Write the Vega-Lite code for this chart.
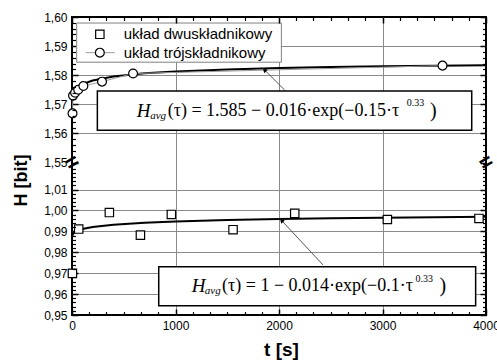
{
  "$schema": "https://vega.github.io/schema/vega-lite/v6.json",
  "width": 414,
  "height": 298,
  "autosize": {"type": "none"},
  "padding": {"left": 72, "top": 17, "right": 11, "bottom": 45},
  "background": "white",
  "config": {
    "view": {"stroke": "black", "strokeWidth": 2},
    "axis": {"labelFont": "Liberation Sans", "labelFontSize": 12, "labelColor": "black", "tickColor": "black", "domain": false, "grid": false}
  },
  "datasets": {
    "one": [{}],
    "sq": [
      {"t": 4, "H": 0.9699}, {"t": 65, "H": 0.9911}, {"t": 361, "H": 0.999}, {"t": 661, "H": 0.9882},
      {"t": 960, "H": 0.9981}, {"t": 1556, "H": 0.9908}, {"t": 2152, "H": 0.9986}, {"t": 3047, "H": 0.9957}, {"t": 3932, "H": 0.9962}
    ],
    "ci": [
      {"t": 5, "H": 1.5669}, {"t": 10, "H": 1.573}, {"t": 30, "H": 1.574}, {"t": 60, "H": 1.575},
      {"t": 110, "H": 1.5763}, {"t": 290, "H": 1.5778}, {"t": 590, "H": 1.5806}, {"t": 3580, "H": 1.5833}
    ],
    "fitTop": [
      {"t": 3, "H": 1.5721}, {"t": 5, "H": 1.5726}, {"t": 10, "H": 1.5734}, {"t": 20, "H": 1.5743}, {"t": 50, "H": 1.5757},
      {"t": 100, "H": 1.5769}, {"t": 200, "H": 1.5782}, {"t": 400, "H": 1.5796}, {"t": 700, "H": 1.5807}, {"t": 1000, "H": 1.5813},
      {"t": 1500, "H": 1.582}, {"t": 2000, "H": 1.5825}, {"t": 2500, "H": 1.5828}, {"t": 3000, "H": 1.5831}, {"t": 3500, "H": 1.5833}, {"t": 4000, "H": 1.5834}
    ],
    "fitBot": [
      {"t": 3, "H": 0.98787}, {"t": 5, "H": 0.98819}, {"t": 10, "H": 0.9887}, {"t": 20, "H": 0.9893}, {"t": 50, "H": 0.99027},
      {"t": 100, "H": 0.99114}, {"t": 200, "H": 0.99212}, {"t": 400, "H": 0.9932}, {"t": 700, "H": 0.99413}, {"t": 1000, "H": 0.99473},
      {"t": 1500, "H": 0.99542}, {"t": 2000, "H": 0.9959}, {"t": 2500, "H": 0.99627}, {"t": 3000, "H": 0.99656}, {"t": 3500, "H": 0.99681}, {"t": 4000, "H": 0.99701}
    ]
  },
  "resolve": {"axis": {"x": "independent", "y": "independent"}},
  "layer": [
    {
      "data": {"name": "fitBot"},
      "mark": {"type": "line", "color": "black", "strokeWidth": 2},
      "encoding": {
        "x": {"field": "t", "type": "quantitative",
          "scale": {"domain": [0, 4000], "nice": false, "zero": false},
          "axis": {"orient": "bottom", "values": [0, 1000, 2000, 3000, 4000], "tickSize": -6, "tickWidth": 1.5, "labelPadding": 11, "labelFlush": false, "format": "d",
            "grid": true, "gridColor": "#8a8a8a", "gridWidth": 1,
            "gridOpacity": {"condition": {"test": "datum.value == 0 || datum.value == 4000", "value": 0}, "value": 1},
            "title": "t [s]", "titleFont": "Liberation Sans", "titleFontSize": 19, "titleFontWeight": "bold", "titleX": 209, "titleY": 34, "titleBaseline": "middle"}},
        "y": {"field": "H", "type": "quantitative",
          "scale": {"domain": [0.95, 1.0229, 1.55, 1.6], "range": [298, 145.6, 145.6, 0], "nice": false, "zero": false},
          "axis": {"orient": "left", "values": [0.95, 0.96, 0.97, 0.98, 0.99, 1.0, 1.01, 1.55, 1.56, 1.57, 1.58, 1.59, 1.6], "tickSize": -6, "tickWidth": 1.5, "labelPadding": 11,
            "labelExpr": "replace(format(datum.value, '.2f'), '.', ',')",
            "grid": true, "gridColor": "#8a8a8a", "gridWidth": 1,
            "gridOpacity": {"condition": {"test": "datum.value == 0.95 || datum.value == 1.55 || datum.value == 1.6", "value": 0}, "value": 1},
            "title": "H [bit]", "titleFont": "Liberation Sans", "titleFontSize": 18, "titleFontWeight": "bold", "titleX": -51, "titleY": 163, "titleBaseline": "middle"}}
      }
    },
    {
      "data": {"name": "fitTop"},
      "mark": {"type": "line", "color": "black", "strokeWidth": 2},
      "encoding": {
        "x": {"field": "t", "type": "quantitative",
          "axis": {"orient": "bottom", "zindex": 1, "labels": false, "title": null, "tickSize": -3.5, "tickWidth": 1.2,
            "values": [166.7, 333.3, 500, 666.7, 833.3, 1166.7, 1333.3, 1500, 1666.7, 1833.3, 2166.7, 2333.3, 2500, 2666.7, 2833.3, 3166.7, 3333.3, 3500, 3666.7, 3833.3]}},
        "y": {"field": "H", "type": "quantitative",
          "axis": {"orient": "left", "zindex": 1, "labels": false, "title": null, "tickSize": -3.5, "tickWidth": 1.2,
            "values": [0.952, 0.954, 0.956, 0.958, 0.962, 0.964, 0.966, 0.968, 0.972, 0.974, 0.976, 0.978, 0.982, 0.984, 0.986, 0.988, 0.992, 0.994, 0.996, 0.998, 1.002, 1.004, 1.006, 1.008, 1.012, 1.014, 1.016, 1.018, 1.02, 1.022, 1.552, 1.554, 1.556, 1.558, 1.562, 1.564, 1.566, 1.568, 1.572, 1.574, 1.576, 1.578, 1.582, 1.584, 1.586, 1.588, 1.592, 1.594, 1.596, 1.598]}}
      }
    },
    {
      "data": {"name": "ci"},
      "mark": {"type": "line", "color": "#9a9a9a", "strokeWidth": 1},
      "encoding": {
        "x": {"field": "t", "type": "quantitative",
          "axis": {"orient": "top", "zindex": 1, "labels": false, "title": null, "tickSize": -6, "tickWidth": 1.5, "values": [0, 1000, 2000, 3000, 4000]}},
        "y": {"field": "H", "type": "quantitative",
          "axis": {"orient": "right", "zindex": 1, "labels": false, "title": null, "tickSize": -6, "tickWidth": 1.5, "values": [0.95, 0.96, 0.97, 0.98, 0.99, 1.0, 1.01, 1.55, 1.56, 1.57, 1.58, 1.59, 1.6]}}
      }
    },
    {
      "data": {"name": "sq"},
      "mark": {"type": "point", "shape": "square", "size": 70, "filled": true, "fill": "white", "stroke": "black", "strokeWidth": 1.2, "opacity": 1},
      "encoding": {
        "x": {"field": "t", "type": "quantitative",
          "axis": {"orient": "top", "zindex": 1, "labels": false, "title": null, "tickSize": -3.5, "tickWidth": 1.2,
            "values": [166.7, 333.3, 500, 666.7, 833.3, 1166.7, 1333.3, 1500, 1666.7, 1833.3, 2166.7, 2333.3, 2500, 2666.7, 2833.3, 3166.7, 3333.3, 3500, 3666.7, 3833.3]}},
        "y": {"field": "H", "type": "quantitative",
          "axis": {"orient": "right", "zindex": 1, "labels": false, "title": null, "tickSize": -3.5, "tickWidth": 1.2,
            "values": [0.952, 0.954, 0.956, 0.958, 0.962, 0.964, 0.966, 0.968, 0.972, 0.974, 0.976, 0.978, 0.982, 0.984, 0.986, 0.988, 0.992, 0.994, 0.996, 0.998, 1.002, 1.004, 1.006, 1.008, 1.012, 1.014, 1.016, 1.018, 1.02, 1.022, 1.552, 1.554, 1.556, 1.558, 1.562, 1.564, 1.566, 1.568, 1.572, 1.574, 1.576, 1.578, 1.582, 1.584, 1.586, 1.588, 1.592, 1.594, 1.596, 1.598]}}
      }
    },
    {
      "data": {"name": "ci"},
      "mark": {"type": "point", "shape": "circle", "size": 78, "filled": true, "fill": "white", "stroke": "black", "strokeWidth": 1.2, "opacity": 1},
      "encoding": {
        "x": {"field": "t", "type": "quantitative", "axis": null},
        "y": {"field": "H", "type": "quantitative", "axis": null}
      }
    },
    {
      "data": {"name": "one"},
      "mark": {"type": "rect", "fill": "white", "stroke": "#808080", "strokeWidth": 1},
      "encoding": {
        "x": {"datum": 45, "type": "quantitative", "axis": null}, "x2": {"datum": 2023},
        "y": {"datum": 1.59793, "type": "quantitative", "axis": null}, "y2": {"datum": 1.58448}
      }
    },
    {
      "data": {"name": "one"},
      "mark": {"type": "rule", "color": "#9a9a9a", "strokeWidth": 1},
      "encoding": {
        "x": {"datum": 132, "type": "quantitative", "axis": null}, "x2": {"datum": 413},
        "y": {"datum": 1.58776, "type": "quantitative", "axis": null}
      }
    },
    {
      "data": {"name": "one"},
      "mark": {"type": "point", "shape": "square", "size": 70, "filled": true, "fill": "white", "stroke": "black", "strokeWidth": 1.2, "opacity": 1},
      "encoding": {
        "x": {"datum": 269, "type": "quantitative", "axis": null},
        "y": {"datum": 1.59405, "type": "quantitative", "axis": null}
      }
    },
    {
      "data": {"name": "one"},
      "mark": {"type": "point", "shape": "circle", "size": 78, "filled": true, "fill": "white", "stroke": "black", "strokeWidth": 1.2, "opacity": 1},
      "encoding": {
        "x": {"datum": 269, "type": "quantitative", "axis": null},
        "y": {"datum": 1.58776, "type": "quantitative", "axis": null}
      }
    },
    {
      "data": {"name": "one"},
      "mark": {"type": "text", "text": "układ dwuskładnikowy", "font": "Liberation Sans", "fontSize": 15, "align": "left", "baseline": "middle", "color": "black"},
      "encoding": {
        "x": {"datum": 500, "type": "quantitative", "axis": null},
        "y": {"datum": 1.59405, "type": "quantitative", "axis": null}
      }
    },
    {
      "data": {"name": "one"},
      "mark": {"type": "text", "text": "układ trójskładnikowy", "font": "Liberation Sans", "fontSize": 15, "align": "left", "baseline": "middle", "color": "black"},
      "encoding": {
        "x": {"datum": 500, "type": "quantitative", "axis": null},
        "y": {"datum": 1.58776, "type": "quantitative", "axis": null}
      }
    },
    {
      "data": {"name": "one"},
      "mark": {"type": "rule", "color": "#555555", "strokeWidth": 1},
      "encoding": {
        "x": {"datum": 2055, "type": "quantitative", "axis": null}, "x2": {"datum": 1845},
        "y": {"datum": 1.57491, "type": "quantitative", "axis": null}, "y2": {"datum": 1.58237}
      }
    },
    {
      "data": {"name": "one"},
      "mark": {"type": "point", "shape": "triangle-up", "size": 25, "filled": true, "color": "black", "opacity": 1, "angle": 315},
      "encoding": {
        "x": {"datum": 1860, "type": "quantitative", "axis": null},
        "y": {"datum": 1.5818, "type": "quantitative", "axis": null}
      }
    },
    {
      "data": {"name": "one"},
      "mark": {"type": "rule", "color": "#555555", "strokeWidth": 1},
      "encoding": {
        "x": {"datum": 2425, "type": "quantitative", "axis": null}, "x2": {"datum": 2007},
        "y": {"datum": 0.97396, "type": "quantitative", "axis": null}, "y2": {"datum": 0.99618}
      }
    },
    {
      "data": {"name": "one"},
      "mark": {"type": "point", "shape": "triangle-up", "size": 25, "filled": true, "color": "black", "opacity": 1, "angle": 317},
      "encoding": {
        "x": {"datum": 2025, "type": "quantitative", "axis": null},
        "y": {"datum": 0.9952, "type": "quantitative", "axis": null}
      }
    },
    {
      "data": {"name": "one"},
      "mark": {"type": "rect", "fill": "white", "stroke": "black", "strokeWidth": 1.5},
      "encoding": {
        "x": {"datum": 245, "type": "quantitative", "axis": null}, "x2": {"datum": 3862},
        "y": {"datum": 1.57459, "type": "quantitative", "axis": null}, "y2": {"datum": 1.5611}
      }
    },
    {
      "data": {"name": "one"},
      "mark": {"type": "rect", "fill": "white", "stroke": "black", "strokeWidth": 1.5},
      "encoding": {
        "x": {"datum": 838, "type": "quantitative", "axis": null}, "x2": {"datum": 3900},
        "y": {"datum": 0.97314, "type": "quantitative", "axis": null}, "y2": {"datum": 0.95443}
      }
    },
    {
      "data": {"name": "one"},
      "mark": {"type": "text", "text": "H", "font": "Liberation Serif", "fontStyle": "italic", "fontSize": 19, "align": "left", "baseline": "middle", "color": "black"},
      "encoding": {"x": {"datum": 625, "type": "quantitative", "axis": null}, "y": {"datum": 1.56787, "type": "quantitative", "axis": null}}
    },
    {
      "data": {"name": "one"},
      "mark": {"type": "text", "text": "avg", "font": "Liberation Serif", "fontStyle": "italic", "fontSize": 11, "align": "left", "baseline": "middle", "color": "black"},
      "encoding": {"x": {"datum": 755, "type": "quantitative", "axis": null}, "y": {"datum": 1.5661, "type": "quantitative", "axis": null}}
    },
    {
      "data": {"name": "one"},
      "mark": {"type": "text", "text": "(τ) = 1.585 − 0.016·exp(−0.15·τ", "font": "Liberation Serif", "fontSize": 18, "align": "left", "baseline": "middle", "color": "black"},
      "encoding": {"x": {"datum": 925, "type": "quantitative", "axis": null}, "y": {"datum": 1.56787, "type": "quantitative", "axis": null}}
    },
    {
      "data": {"name": "one"},
      "mark": {"type": "text", "text": "0.33", "font": "Liberation Serif", "fontSize": 10, "align": "left", "baseline": "middle", "color": "black"},
      "encoding": {"x": {"datum": 3235, "type": "quantitative", "axis": null}, "y": {"datum": 1.5703, "type": "quantitative", "axis": null}}
    },
    {
      "data": {"name": "one"},
      "mark": {"type": "text", "text": ")", "font": "Liberation Serif", "fontSize": 20, "align": "left", "baseline": "middle", "color": "black"},
      "encoding": {"x": {"datum": 3460, "type": "quantitative", "axis": null}, "y": {"datum": 1.56787, "type": "quantitative", "axis": null}}
    },
    {
      "data": {"name": "one"},
      "mark": {"type": "text", "text": "H", "font": "Liberation Serif", "fontStyle": "italic", "fontSize": 19, "align": "left", "baseline": "middle", "color": "black"},
      "encoding": {"x": {"datum": 1156, "type": "quantitative", "axis": null}, "y": {"datum": 0.96375, "type": "quantitative", "axis": null}}
    },
    {
      "data": {"name": "one"},
      "mark": {"type": "text", "text": "avg", "font": "Liberation Serif", "fontStyle": "italic", "fontSize": 11, "align": "left", "baseline": "middle", "color": "black"},
      "encoding": {"x": {"datum": 1283, "type": "quantitative", "axis": null}, "y": {"datum": 0.96136, "type": "quantitative", "axis": null}}
    },
    {
      "data": {"name": "one"},
      "mark": {"type": "text", "text": "(τ) = 1 − 0.014·exp(−0.1·τ", "font": "Liberation Serif", "fontSize": 18, "align": "left", "baseline": "middle", "color": "black"},
      "encoding": {"x": {"datum": 1450, "type": "quantitative", "axis": null}, "y": {"datum": 0.96375, "type": "quantitative", "axis": null}}
    },
    {
      "data": {"name": "one"},
      "mark": {"type": "text", "text": "0.33", "font": "Liberation Serif", "fontSize": 10, "align": "left", "baseline": "middle", "color": "black"},
      "encoding": {"x": {"datum": 3320, "type": "quantitative", "axis": null}, "y": {"datum": 0.96705, "type": "quantitative", "axis": null}}
    },
    {
      "data": {"name": "one"},
      "mark": {"type": "text", "text": ")", "font": "Liberation Serif", "fontSize": 20, "align": "left", "baseline": "middle", "color": "black"},
      "encoding": {"x": {"datum": 3550, "type": "quantitative", "axis": null}, "y": {"datum": 0.96375, "type": "quantitative", "axis": null}}
    },
    {
      "data": {"name": "one"},
      "mark": {"type": "text", "text": "=", "font": "Liberation Sans", "fontSize": 22, "fontWeight": "bold", "align": "center", "baseline": "middle", "angle": 330, "color": "black"},
      "encoding": {"x": {"datum": 0, "type": "quantitative", "axis": null}, "y": {"datum": 1.55, "type": "quantitative", "axis": null}}
    },
    {
      "data": {"name": "one"},
      "mark": {"type": "text", "text": "=", "font": "Liberation Sans", "fontSize": 22, "fontWeight": "bold", "align": "center", "baseline": "middle", "angle": 330, "color": "black"},
      "encoding": {"x": {"datum": 4000, "type": "quantitative", "axis": null}, "y": {"datum": 1.55, "type": "quantitative", "axis": null}}
    }
  ]
}
